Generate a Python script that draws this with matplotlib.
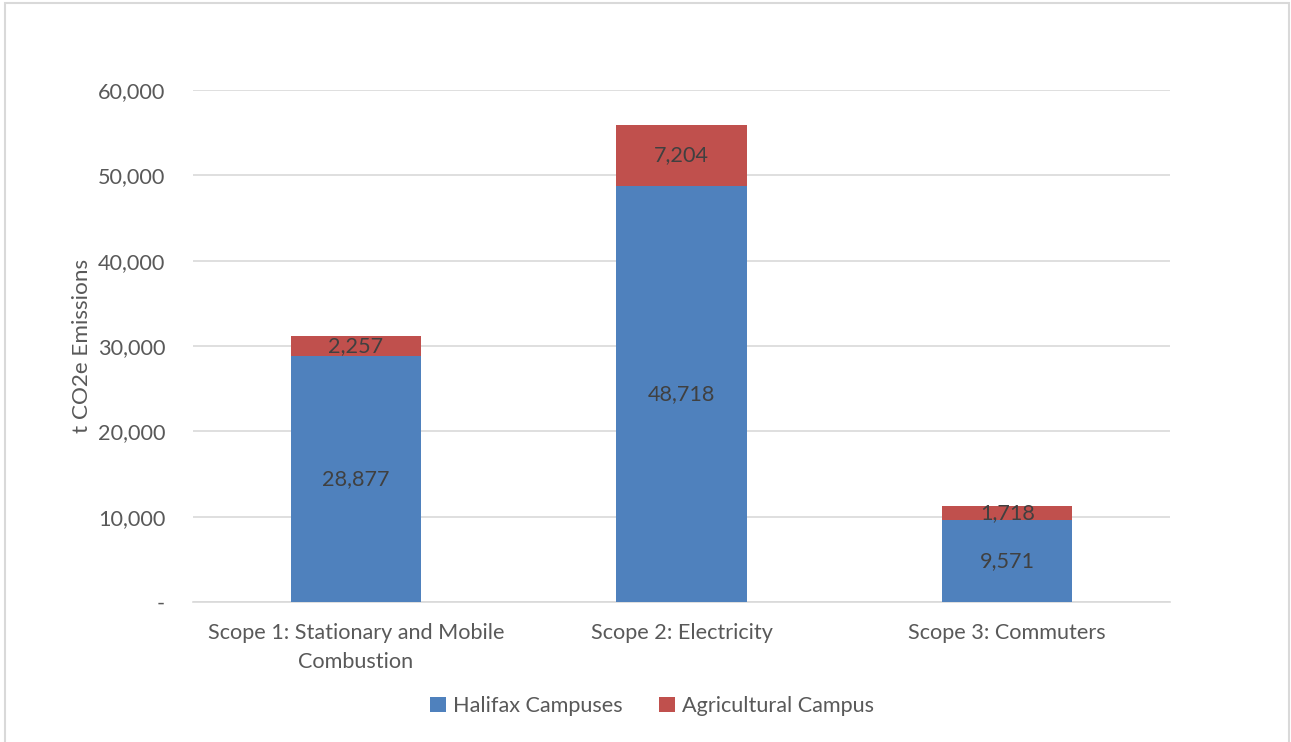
import matplotlib
matplotlib.use("Agg")
import matplotlib.pyplot as plt
from matplotlib.patches import Rectangle
from matplotlib.ticker import FuncFormatter
import numpy as np

categories = ["Scope 1: Stationary and Mobile\nCombustion", "Scope 2: Electricity", "Scope 3: Commuters"]
halifax = [28877, 48718, 9571]
agricultural = [2257, 7204, 1718]
series_names = ["Halifax Campuses", "Agricultural Campus"]
y_ticks = [0, 10000, 20000, 30000, 40000, 50000, 60000]

BLUE = "#4F81BD"
RED = "#C0504D"
TEXT = "#595959"
LABEL = "#404040"
GRID = "#D9D9D9"
FS = 15.6

plt.rcParams["font.family"] = ["Lato", "DejaVu Sans"]

fig = plt.figure(figsize=(12.91, 7.42), dpi=100)
ax = fig.add_axes([193 / 1291, 1 - 602 / 742, (1170 - 193) / 1291, (602 - 90) / 742])

x = np.arange(len(categories))
w = 0.4
b1 = ax.bar(x, halifax, w, color=BLUE, label=series_names[0], zorder=3)
b2 = ax.bar(x, agricultural, w, bottom=halifax, color=RED, label=series_names[1], zorder=3)

for xi, h, a in zip(x, halifax, agricultural):
    ax.text(xi, h / 2, f"{h:,}", ha="center", va="center", fontsize=FS, color=LABEL, zorder=4)
    ax.text(xi, h + a / 2, f"{a:,}", ha="center", va="center", fontsize=FS, color=LABEL, zorder=4)

ax.set_xlim(-0.5, len(categories) - 0.5)
ax.set_ylim(0, 60000)
ax.set_yticks(y_ticks)
ax.yaxis.set_major_formatter(FuncFormatter(lambda v, p: "-" if v == 0 else f"{int(v):,}"))
ax.set_xticks(x)
ax.set_xticklabels(categories, linespacing=1.55)
ax.grid(axis="y", color=GRID, linewidth=1.2, zorder=0)
for s in ["top", "right", "left"]:
    ax.spines[s].set_visible(False)
ax.spines["bottom"].set_color(GRID)
ax.spines["bottom"].set_linewidth(1.2)
ax.tick_params(axis="both", length=0, labelsize=FS, labelcolor=TEXT)
ax.tick_params(axis="y", pad=20)
ax.tick_params(axis="x", pad=15)
ax.set_ylabel("t CO2e Emissions", fontsize=16.2, color=TEXT, labelpad=4)

fig.legend(handles=[b1, b2], labels=series_names, loc="center", bbox_to_anchor=(652 / 1291, 1 - 706 / 742),
           ncol=2, frameon=False, fontsize=FS, labelcolor=TEXT, handlelength=0.75, handleheight=0.75,
           columnspacing=1.7, handletextpad=0.3)

fig.patches.append(Rectangle((5 / 1291, -0.01), (1289 - 5) / 1291, 1 - 3 / 742 + 0.01,
                             transform=fig.transFigure, fill=False, edgecolor="#D9D9D9", linewidth=1.5))

fig.savefig("out.png", dpi=100, facecolor="white")
